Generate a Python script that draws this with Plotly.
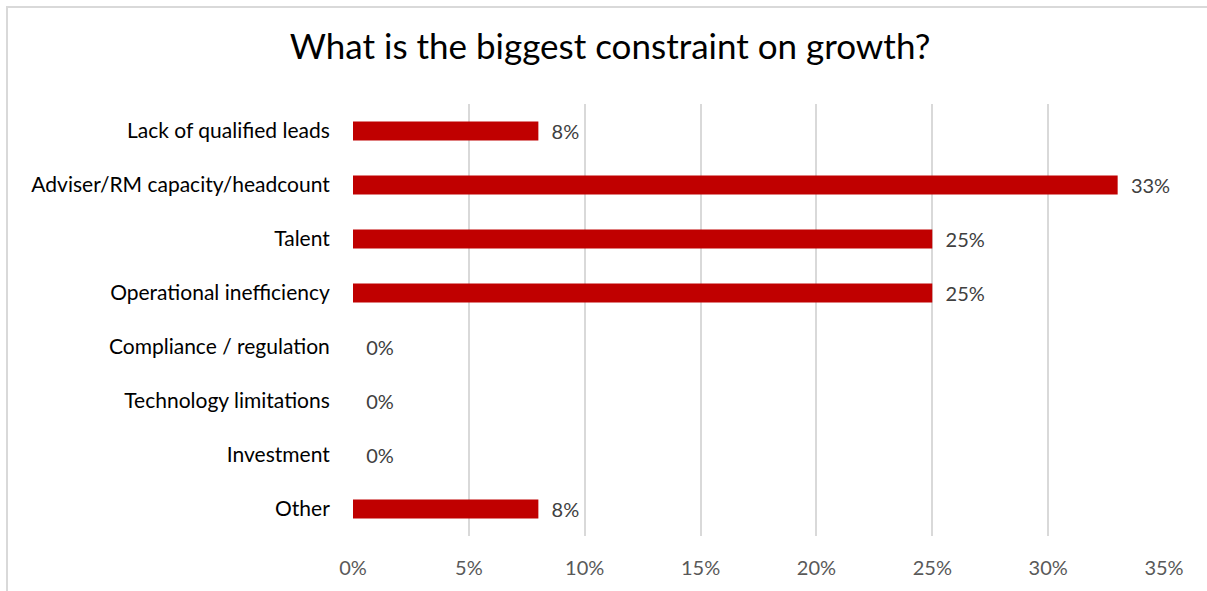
import plotly.graph_objects as go

categories = ["Lack of qualified leads", "Adviser/RM capacity/headcount", "Talent",
              "Operational inefficiency", "Compliance / regulation",
              "Technology limitations", "Investment", "Other"]
values = [8, 33, 25, 25, 0, 0, 0, 8]
tick_vals = [0, 5, 10, 15, 20, 25, 30, 35]
tick_text = ["0%", "5%", "10%", "15%", "20%", "25%", "30%", "35%"]
title_text = "What is the biggest constraint on growth?"

W, H = 1207, 591
L, R, T, B = 353, 43, 104, 55
pw, ph = W - L - R, H - T - B

fig = go.Figure(go.Bar(
    x=values, y=categories, orientation="h",
    marker=dict(color="#C00000", line=dict(width=0)),
    text=["  %d%%" % v for v in values],
    textposition="outside", cliponaxis=False, constraintext="none",
    textfont=dict(family="Lato, sans-serif", size=20, color="#404040"),
    width=0.35,
))

fig.update_layout(
    width=W, height=H,
    margin=dict(l=L, r=R, t=T, b=B),
    paper_bgcolor="white", plot_bgcolor="white",
    showlegend=False,
    title=dict(text=title_text, x=610 / W, xanchor="center",
               y=1 - 47 / H, yanchor="middle", xref="container", yref="container",
               font=dict(family="Lato, sans-serif", size=35, color="#000000")),
    xaxis=dict(range=[0, 35], tickvals=tick_vals, ticktext=tick_text,
               showgrid=True, gridcolor="#d9d9d9", gridwidth=2,
               zeroline=False, showline=False,
               ticks="outside", ticklen=14, tickcolor="rgba(0,0,0,0)",
               tickfont=dict(family="Lato, sans-serif", size=20, color="#595959")),
    yaxis=dict(autorange="reversed", showgrid=False, zeroline=False, showline=False,
               ticks="outside", ticklen=18, tickcolor="rgba(0,0,0,0)",
               tickfont=dict(family="Lato, sans-serif", size=21, color="#000000")),
    shapes=[dict(type="rect", xref="paper", yref="paper",
                 x0=(7 - L) / pw, x1=(W + 20 - L) / pw,
                 y0=-(B + 20) / ph, y1=(ph + T - 7) / ph,
                 line=dict(color="#d9d9d9", width=2), layer="below")],
)

fig.write_html("out.html")
